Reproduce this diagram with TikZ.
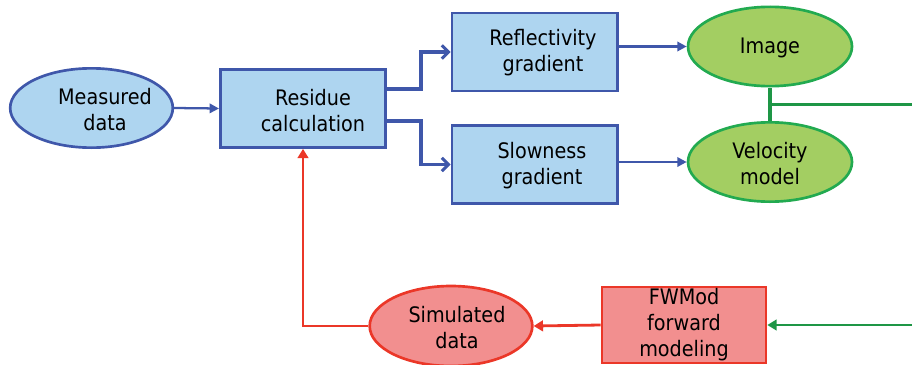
\documentclass[tikz,border=0pt]{standalone}
\usepackage{fontspec}
\setmainfont{DejaVu Sans Condensed}
\usetikzlibrary{shapes.geometric,arrows.meta,calc}
\definecolor{bluefill}{RGB}{174,213,240}
\definecolor{bluebd}{RGB}{63,87,170}
\definecolor{greenfill}{RGB}{163,206,98}
\definecolor{greenbd}{RGB}{34,170,80}
\definecolor{greenln}{RGB}{30,150,70}
\definecolor{redfill}{RGB}{242,143,143}
\definecolor{redbd}{RGB}{235,55,40}
\tikzset{
  bbox/.style={rectangle, draw=bluebd, fill=bluefill, line width=2pt, minimum width=124pt, minimum height=58.5pt, inner sep=0pt},
  gell/.style={ellipse, draw=greenbd, fill=greenfill, line width=2pt, minimum width=123pt, minimum height=59.5pt, inner sep=0pt},
  bell/.style={ellipse, draw=bluebd, fill=bluefill, line width=2pt, minimum width=122pt, minimum height=59.5pt, inner sep=0pt},
  rell/.style={ellipse, draw=redbd, fill=redfill, line width=2pt, minimum width=122pt, minimum height=60pt, inner sep=0pt},
  rbox/.style={rectangle, draw=redbd, fill=redfill, line width=2pt, minimum width=123pt, minimum height=57pt, inner sep=0pt},
  txt/.style={align=center, inner sep=0pt, font=\fontsize{16}{19.5}\selectfont},
  barrow/.style={draw=bluebd, line width=1.7pt, -{Triangle[length=7pt,width=7pt]}},
  bbranch/.style={draw=bluebd, line width=2.6pt, -{Straight Barb[length=5pt,width=10pt,line width=2.2pt]}},
  rarrow/.style={draw=redbd, line width=2.1pt, -{Triangle[length=7pt,width=8pt]}},
  gline/.style={draw=greenln, line width=2.3pt},
  garrow/.style={draw=greenln, line width=2.1pt, -{Triangle[length=7pt,width=8pt]}},
}
\begin{document}
\begin{tikzpicture}[x=0.75pt, y=-0.75pt]
\useasboundingbox (0,0) rectangle (912,364);
\clip (0,0) rectangle (912,364);
% shapes
\node[bell] (meas) at (91.5,108) {};
\node[bbox] (res) at (303,108.5) {};
\node[bbox] (refl) at (534.5,52) {};
\node[bbox] (slow) at (534.5,164.5) {};
\node[gell] (img) at (770,46.5) {};
\node[gell] (vel) at (770,162) {};
\node[rell] (sim) at (451,326) {};
\node[rbox] (fw) at (684,325) {};
% texts
\node[txt] (measT) at (105,110) {Measured\\data};
\node[txt] (resT) at (313,111) {Residue\\calculation};
\node[txt] (reflT) at (543,53) {Reflectivity\\gradient};
\node[txt] (slowT) at (542,166) {Slowness\\gradient};
\node[txt] (imgT) at (770,48) {Image};
\node[txt] (velT) at (770,164) {Velocity\\model};
\node[txt] (simT) at (457,328) {Simulated\\data};
\node[txt] (fwT) at (684,325) {FWMod\\forward\\modeling};
% connectors
\draw[barrow] (meas.east) -- (res.west);
\draw[bbranch] ([yshift=14.6pt]res.east) -- ++(34,0) |- (refl.west);
\draw[bbranch] ([yshift=-9.4pt]res.east) -- ++(34,0) |- (slow.west);
\draw[barrow] (img.west -| refl.east) -- (img.west);
\draw[barrow] (vel.west -| slow.east) -- (vel.west);
\draw[gline] (img.south) -- (vel.north);
\coordinate (gj) at ($(img.south)!0.5!(vel.north)$);
\coordinate (gR) at (914,104);
\draw[gline] (gj) -- (gj -| gR);
\coordinate (gR2) at (914,325);
\draw[garrow] (gR2) -- (fw.east);
\draw[rarrow] (fw.west) -- (sim.east);
\draw[rarrow] (sim.west) -| (res.south);
\end{tikzpicture}
\end{document}
